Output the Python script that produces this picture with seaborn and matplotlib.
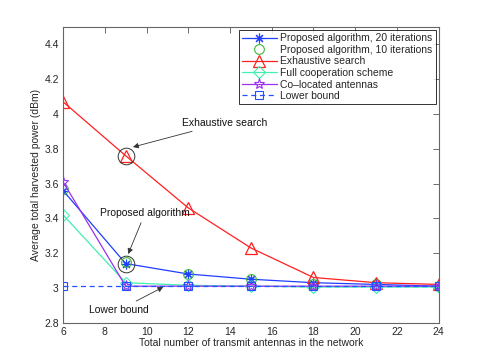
import matplotlib
matplotlib.use('Agg')
import matplotlib.pyplot as plt
import seaborn as sns

# data
antennas = [6, 9, 12, 15, 18, 21, 24]
proposed_20 = [3.56, 3.14, 3.08, 3.05, 3.03, 3.02, 3.01]
proposed_10 = [3.57, 3.15, 3.08, 3.05, 3.025, 3.02, 3.01]
exhaustive = [4.07, 3.76, 3.46, 3.23, 3.06, 3.03, 3.02]
full_coop = [3.42, 3.03, 3.015, 3.01, 3.005, 3.005, 3.005]
colocated = [3.61, 3.01, 3.01, 3.01, 3.01, 3.01, 3.01]
lower_bound = [3.01, 3.01, 3.01, 3.01, 3.01, 3.01, 3.01]

sns.set_style('white')
plt.rcParams['font.family'] = ['Liberation Sans', 'DejaVu Sans']
plt.rcParams['font.size'] = 7.5

fig = plt.figure(figsize=(4.85, 3.63), dpi=100)
ax = fig.add_axes([0.13, 0.111, 0.7745, 0.8146])

sns.lineplot(x=antennas, y=proposed_20, ax=ax, color='#1f3fff', marker=(8, 2, 0),
             markersize=7, markeredgecolor='#1f3fff', markeredgewidth=0.8, linewidth=0.9,
             label='Proposed algorithm, 20 iterations')
sns.lineplot(x=antennas, y=proposed_10, ax=ax, color='#3cb83c', marker='o', linestyle='none',
             markersize=7, markerfacecolor='none', markeredgecolor='#3cb83c', markeredgewidth=0.8,
             label='Proposed algorithm, 10 iterations')
sns.lineplot(x=antennas, y=exhaustive, ax=ax, color='#ff2020', marker='^', markersize=8,
             markerfacecolor='none', markeredgecolor='#ff2020', markeredgewidth=0.9, linewidth=0.9,
             label='Exhaustive search')
sns.lineplot(x=antennas, y=full_coop, ax=ax, color='#40f0b0', marker='D', markersize=6,
             markerfacecolor='none', markeredgecolor='#40f0b0', markeredgewidth=0.8, linewidth=0.9,
             label='Full cooperation scheme')
sns.lineplot(x=antennas, y=colocated, ax=ax, color='#9a30f0', marker='*', markersize=8,
             markerfacecolor='none', markeredgecolor='#9a30f0', markeredgewidth=0.8, linewidth=0.9,
             label='Co\u2013located antennas')
sns.lineplot(x=antennas, y=lower_bound, ax=ax, color='#2050ff', marker='s', markersize=6,
             markerfacecolor='none', markeredgecolor='#2050ff', markeredgewidth=0.8, linewidth=0.9,
             label='Lower bound')
ax.lines[-1].set_linestyle((0, (4, 3)))

# highlight circles
ax.plot([9, 9], [3.76, 3.14], linestyle='none', marker='o', markersize=12,
        markerfacecolor='none', markeredgecolor='#333333', markeredgewidth=0.7)

arrow = dict(arrowstyle='-|>', color='#333333', lw=0.6, mutation_scale=8, shrinkA=1, shrinkB=0)
ax.annotate('Exhaustive search', xy=(9.35, 3.81), xytext=(11.7, 3.95), arrowprops=arrow,
            fontsize=7.5, ha='left', va='center', color='#111111')
ax.annotate('Proposed algorithm', xy=(9.12, 3.195), xytext=(9.93, 3.43), arrowprops=arrow,
            fontsize=7.5, ha='center', va='center', color='#111111')
ax.annotate('Lower bound', xy=(10.8, 3.005), xytext=(8.68, 2.873), arrowprops=arrow,
            fontsize=7.5, ha='center', va='center', color='#111111')

ax.set_xlim(6, 24)
ax.set_ylim(2.8, 4.5)
ax.set_xticks([6, 8, 10, 12, 14, 16, 18, 20, 22, 24])
ax.set_yticks([2.8, 3, 3.2, 3.4, 3.6, 3.8, 4, 4.2, 4.4])
ax.set_yticklabels(['2.8', '3', '3.2', '3.4', '3.6', '3.8', '4', '4.2', '4.4'])
ax.tick_params(direction='in', top=True, right=True, length=4, width=0.6,
               color='#555555', labelsize=7.5, pad=3)
for s in ax.spines.values():
    s.set_color('#666666')
    s.set_linewidth(0.8)

ax.set_xlabel('Total number of transmit antennas in the network', fontsize=7.5, labelpad=1)
ax.set_ylabel('Average total harvested power (dBm)', fontsize=7.5, labelpad=2)

leg = ax.legend(loc='upper right', fontsize=7.5, frameon=True, fancybox=False,
                edgecolor='black', borderpad=0.3, labelspacing=0.15, handlelength=3.4,
                handletextpad=0.3, borderaxespad=0.3)
leg.get_frame().set_linewidth(0.7)

fig.savefig('out.png', dpi=100)
